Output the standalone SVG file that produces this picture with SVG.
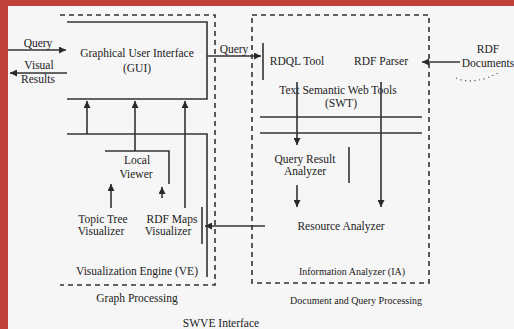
<svg xmlns="http://www.w3.org/2000/svg" width="514" height="329" viewBox="0 0 514 329">
<defs>
<marker id="ah" viewBox="0 0 10 10" refX="10" refY="5" markerWidth="9" markerHeight="7" markerUnits="userSpaceOnUse" orient="auto"><path d="M0,0 L10,5 L0,10 z" fill="#2a2a2a"/></marker>
</defs>
<style>
.ln{stroke:#333;stroke-width:1.6;fill:none}
.ds{stroke:#333;stroke-width:1.6;fill:none;stroke-dasharray:5,4}
.dt{stroke:#555;stroke-width:1.2;fill:none;stroke-dasharray:1.2,3.5}
text{font-family:"Liberation Serif","Times New Roman",serif;font-size:11.5px;fill:#222;text-anchor:middle}
.sm{font-size:10px}
</style>
<rect width="514" height="329" fill="#f6f6f6"/>
<rect x="0" y="0" width="514" height="6" fill="#c0403a"/>
<rect x="0" y="0" width="8" height="329" fill="#c0403a"/>

<g id="graph-processing">
<path class="ds" d="M60,15 H215 V285 H60"/>
<text x="137" y="302">Graph Processing</text>
</g>
<g id="doc-query-processing">
<rect class="ds" x="252" y="15" width="177" height="268"/>
<text x="356" y="304" class="sm">Document and Query Processing</text>
</g>
<g id="gui">
<path class="ln" d="M67,22 H207 V99 H67"/>
<text x="137" y="57">Graphical User Interface</text>
<text x="137" y="72">(GUI)</text>
</g>
<g id="rdql-tool">
<line class="ln" x1="263" y1="43" x2="263" y2="80"/>
<text x="297" y="65">RDQL Tool</text>
</g>
<g id="rdf-parser">
<text x="381" y="65">RDF Parser</text>
</g>
<g id="rdf-documents">
<text x="488" y="53">RDF</text>
<text x="488" y="67">Documents</text>
<path class="dt" d="M456,78 Q474,86 500,72"/>
</g>
<g id="swt">
<text x="338" y="94">Text Semantic Web Tools</text>
<text x="341" y="107">(SWT)</text>
<line class="ln" x1="260" y1="117" x2="422" y2="117"/>
<line class="ln" x1="260" y1="133" x2="422" y2="133"/>
</g>
<g id="query-result-analyzer">
<text x="305" y="163">Query Result</text>
<text x="305" y="175">Analyzer</text>
<line class="ln" x1="349" y1="147" x2="349" y2="183"/>
</g>
<g id="resource-analyzer">
<text x="341" y="230">Resource Analyzer</text>
</g>
<g id="information-analyzer">
<text x="352" y="275" class="sm">Information Analyzer (IA)</text>
</g>
<g id="visualization-engine">
<path class="ln" d="M67,134 H207 V277"/>
<text x="137" y="275">Visualization Engine (VE)</text>
</g>
<g id="local-viewer">
<path class="ln" d="M105,151 H169 V184"/>
<text x="137" y="164">Local</text>
<text x="136" y="178">Viewer</text>
</g>
<g id="topic-tree-visualizer">
<text x="103" y="223">Topic Tree</text>
<text x="101" y="235">Visualizer</text>
</g>
<g id="rdf-maps-visualizer">
<text x="172" y="223">RDF Maps</text>
<text x="168" y="235">Visualizer</text>
<line class="ln" x1="202" y1="207" x2="202" y2="244"/>
</g>
<g id="swve-interface">
<text x="221" y="327">SWVE Interface</text>
</g>

<g id="connectors">
<path class="ln" d="M8,50 H66" marker-end="url(#ah)"/>
<text x="38" y="47">Query</text>
<path class="ln" d="M67,73 H10" marker-end="url(#ah)"/>
<text x="39" y="69">Visual</text>
<text x="38" y="83">Results</text>
<path class="ln" d="M207,56 H261" marker-end="url(#ah)"/>
<text x="234" y="53">Query</text>
<path class="ln" d="M460,62 H422" marker-end="url(#ah)"/>
<path class="ln" d="M297,82 V145" marker-end="url(#ah)"/>
<path class="ln" d="M381,82 V207" marker-end="url(#ah)"/>
<path class="ln" d="M297,185 V207" marker-end="url(#ah)"/>
<path class="ln" d="M265,226 H205" marker-end="url(#ah)"/>
<path class="ln" d="M87,134 V101" marker-end="url(#ah)"/>
<path class="ln" d="M135,151 V101" marker-end="url(#ah)"/>
<path class="ln" d="M185,208 V101" marker-end="url(#ah)"/>
<path class="ln" d="M111,208 V184" marker-end="url(#ah)"/>
<path class="ln" d="M162,198 V187" marker-end="url(#ah)"/>
</g>
</svg>
